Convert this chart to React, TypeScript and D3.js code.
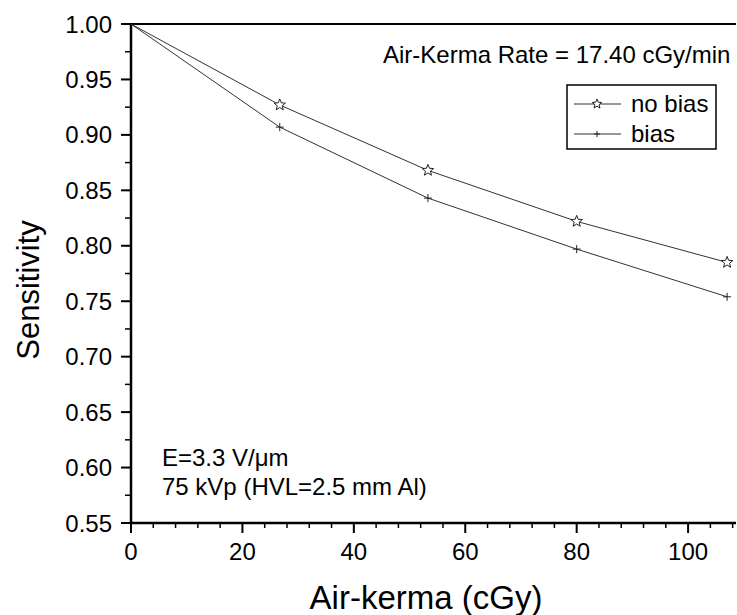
import React from "react";
import * as d3 from "d3";

const airKerma = [0, 26.7, 53.3, 80, 107];
const noBias = [1.0, 0.927, 0.868, 0.822, 0.785];
const bias = [1.0, 0.907, 0.843, 0.797, 0.754];
const xTicks = [0, 20, 40, 60, 80, 100];
const yTicks = [0.55, 0.6, 0.65, 0.7, 0.75, 0.8, 0.85, 0.9, 0.95, 1.0];

const W = 737, H = 615;
const L = 131, R = 736, T = 24, B = 523;

function starPath(cx: number, cy: number, ro: number, ri: number) {
  const pts: [number, number][] = [];
  for (let i = 0; i < 10; i++) {
    const a = -Math.PI / 2 + (i * Math.PI) / 5;
    const r = i % 2 === 0 ? ro : ri;
    pts.push([cx + r * Math.cos(a), cy + r * Math.sin(a)]);
  }
  return "M" + pts.map((p) => p.join(",")).join("L") + "Z";
}

export default function App() {
  const x = d3.scaleLinear().domain([0, 108.6]).range([L, R]);
  const y = d3.scaleLinear().domain([0.55, 1.0]).range([B, T]);
  const line = d3.line<number>().x((_, i) => x(airKerma[i])).y((d) => y(d));
  const font = "'Liberation Sans', Arial, sans-serif";
  const xMinor = d3.range(0, 109, 4).filter((v) => v % 20 !== 0);
  const yMinor = d3.range(0.575, 1.0, 0.05);
  return (
    <svg width={W} height={H} style={{ position: "absolute", left: 0, top: 0 }} fontFamily={font}>
      <rect width={W} height={H} fill="#fff" />
      {/* axes */}
      <line x1={L} x2={R} y1={T} y2={T} stroke="#000" strokeWidth={2} />
      <line x1={L} x2={L} y1={T} y2={B} stroke="#000" strokeWidth={2.5} />
      <line x1={L} x2={R} y1={B} y2={B} stroke="#000" strokeWidth={2.5} />
      {xTicks.map((t) => (
        <g key={"xt" + t}>
          <line x1={x(t)} x2={x(t)} y1={B} y2={B + 10} stroke="#000" strokeWidth={2} />
          <text x={x(t)} y={560} textAnchor="middle" fontSize={24}>{t}</text>
        </g>
      ))}
      {xMinor.map((t) => (
        <line key={"xm" + t} x1={x(t)} x2={x(t)} y1={B} y2={B + 5} stroke="#000" strokeWidth={1.5} />
      ))}
      {yTicks.map((t) => (
        <g key={"yt" + t}>
          <line x1={L - 10} x2={L} y1={y(t)} y2={y(t)} stroke="#000" strokeWidth={2} />
          <text x={L - 19} y={y(t) + 8.5} textAnchor="end" fontSize={24}>{t.toFixed(2)}</text>
        </g>
      ))}
      {yMinor.map((t) => (
        <line key={"ym" + t} x1={L - 6} x2={L} y1={y(t)} y2={y(t)} stroke="#000" strokeWidth={1.5} />
      ))}
      <text x={426} y={609} textAnchor="middle" fontSize={33}>Air-kerma (cGy)</text>
      <text transform={`translate(39,290) rotate(-90)`} textAnchor="middle" fontSize={31}>Sensitivity</text>
      {/* series */}
      <path d={line(noBias) || ""} fill="none" stroke="#333" strokeWidth={1} />
      <path d={line(bias) || ""} fill="none" stroke="#333" strokeWidth={1} />
      {noBias.slice(1).map((v, i) => (
        <path key={"s" + i} d={starPath(x(airKerma[i + 1]), y(v), 6, 2.6)} fill="#fff" stroke="#222" strokeWidth={1} />
      ))}
      {bias.slice(1).map((v, i) => {
        const cx = x(airKerma[i + 1]), cy = y(v);
        return (
          <g key={"p" + i} stroke="#222" strokeWidth={1}>
            <line x1={cx - 4} x2={cx + 4} y1={cy} y2={cy} />
            <line x1={cx} x2={cx} y1={cy - 4} y2={cy + 4} />
          </g>
        );
      })}
      {/* annotations */}
      <text x={383} y={63} fontSize={24}>Air-Kerma Rate = 17.40 cGy/min</text>
      <rect x={567} y={85} width={149} height={64} fill="none" stroke="#000" strokeWidth={1.5} />
      <line x1={574} x2={621} y1={104} y2={104} stroke="#333" strokeWidth={1} />
      <path d={starPath(597, 104, 5, 2.2)} fill="#fff" stroke="#222" strokeWidth={1} />
      <text x={631} y={112} fontSize={24}>no bias</text>
      <line x1={574} x2={621} y1={134} y2={134} stroke="#333" strokeWidth={1} />
      <line x1={594} x2={600} y1={134} y2={134} stroke="#222" />
      <line x1={597} x2={597} y1={131} y2={137} stroke="#222" />
      <text x={631} y={142} fontSize={24}>bias</text>
      <text x={162} y={466} fontSize={24}>E=3.3 V/μm</text>
      <text x={162} y={495} fontSize={24}>75 kVp (HVL=2.5 mm Al)</text>
    </svg>
  );
}
